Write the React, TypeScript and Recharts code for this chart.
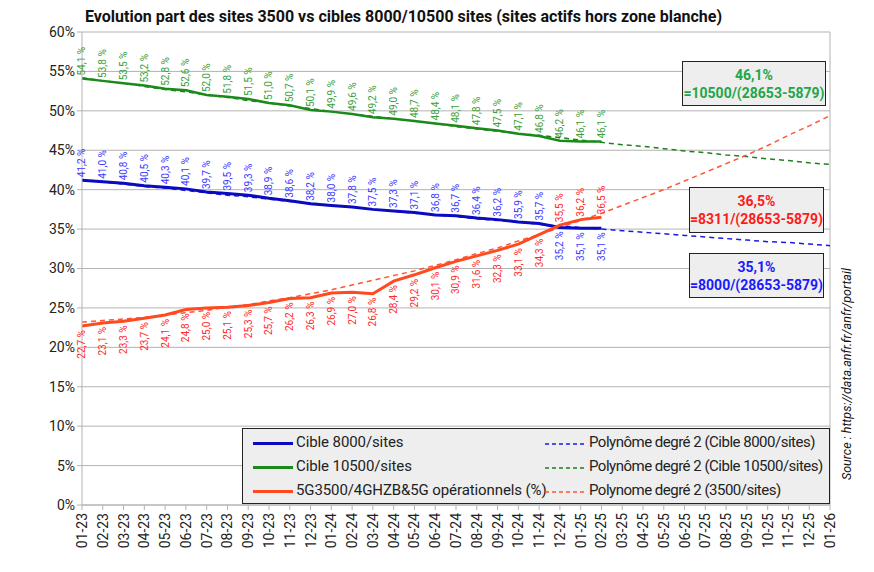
import { LineChart, Line, XAxis, YAxis, CartesianGrid, LabelList, ReferenceLine } from 'recharts';

const months = [
  '01-23', '02-23', '03-23', '04-23', '05-23', '06-23', '07-23', '08-23', '09-23', '10-23', '11-23', '12-23',
  '01-24', '02-24', '03-24', '04-24', '05-24', '06-24', '07-24', '08-24', '09-24', '10-24', '11-24', '12-24',
  '01-25', '02-25', '03-25', '04-25', '05-25', '06-25', '07-25', '08-25', '09-25', '10-25', '11-25', '12-25',
  '01-26',
];

const cible8000 = [
  41.2, 41.0, 40.8, 40.5, 40.3, 40.1, 39.7, 39.5, 39.3, 38.9, 38.6, 38.2, 38.0,
  37.8, 37.5, 37.3, 37.1, 36.8, 36.7, 36.4, 36.2, 35.9, 35.7, 35.2, 35.1, 35.1,
];

const cible10500 = [
  54.1, 53.8, 53.5, 53.2, 52.8, 52.6, 52.0, 51.8, 51.5, 51.0, 50.7, 50.1, 49.9,
  49.6, 49.2, 49.0, 48.7, 48.4, 48.1, 47.8, 47.5, 47.1, 46.8, 46.2, 46.1, 46.1,
];

const sites3500 = [
  22.7, 23.1, 23.3, 23.7, 24.1, 24.8, 25.0, 25.1, 25.3, 25.7, 26.2, 26.3, 26.9,
  27.0, 26.8, 28.4, 29.2, 30.1, 30.9, 31.6, 32.3, 33.1, 34.3, 35.5, 36.2, 36.5,
];

// trend lines (polynôme degré 2)
const trend8000 = [
  41.3, 41.0, 40.7, 40.4, 40.2, 39.9, 39.6, 39.3, 39.1, 38.8, 38.5, 38.3, 38.0,
  37.8, 37.5, 37.3, 37.0, 36.8, 36.6, 36.3, 36.1, 35.9, 35.6, 35.4, 35.2, 35.0,
  34.8, 34.6, 34.4, 34.2, 34.0, 33.8, 33.6, 33.4, 33.3, 33.1, 32.9,
];

const trend10500 = [
  54.2, 53.8, 53.5, 53.1, 52.7, 52.4, 52.0, 51.7, 51.3, 51.0, 50.6, 50.3, 49.9,
  49.6, 49.3, 49.0, 48.7, 48.4, 48.0, 47.7, 47.4, 47.1, 46.9, 46.6, 46.3, 46.0,
  45.7, 45.5, 45.2, 44.9, 44.7, 44.4, 44.2, 43.9, 43.7, 43.4, 43.2,
];

const trend3500 = [
  23.2, 23.4, 23.6, 23.8, 24.1, 24.4, 24.7, 25.1, 25.4, 25.9, 26.3, 26.8, 27.3,
  27.9, 28.5, 29.1, 29.7, 30.4, 31.1, 31.9, 32.6, 33.5, 34.3, 35.2, 36.1, 37.0,
  38.0, 39.0, 40.0, 41.1, 42.2, 43.3, 44.4, 45.6, 46.9, 48.1, 49.4,
];

const yTicks = [0, 5, 10, 15, 20, 25, 30, 35, 40, 45, 50, 55, 60];

const data = months.map((m, i) => ({
  month: m,
  c8000: cible8000[i] ?? null,
  c10500: cible10500[i] ?? null,
  s3500: sites3500[i] ?? null,
  t8000: trend8000[i],
  t10500: trend10500[i],
  t3500: trend3500[i],
}));

const FONT = 'Roboto, sans-serif';
const GRID = '#b3b3b3';

const fmt = (v: number) => v.toFixed(1).replace('.', ',');

const makeLabel = (color: string, belowFrom: number, belowTo: number) => (props: any) => {
  const { x, y, value, index } = props;
  if (value == null || x == null || y == null) return null;
  const below = index >= belowFrom && index <= belowTo;
  const ax = x + 3.5;
  const ay = below ? y + 4 : y - 3;
  return (
    <text
      x={ax}
      y={ay}
      transform={`rotate(-90 ${ax} ${ay})`}
      textAnchor={below ? 'end' : 'start'}
      fontSize={10}
      fontFamily={FONT}
      fill={color}
    >
      {fmt(value)} %
    </text>
  );
};

const MonthTick = (props: any) => {
  const { x, y, payload } = props;
  const ax = x + 5;
  const ay = y + 1;
  return (
    <text
      x={ax}
      y={ay}
      transform={`rotate(-90 ${ax} ${ay})`}
      textAnchor="end"
      fontSize={14}
      fontFamily={FONT}
      fill="#222"
    >
      {payload.value}
    </text>
  );
};

const boxStyle = {
  position: 'absolute' as const,
  background: '#eeeeee',
  border: '1px solid #222',
  fontFamily: FONT,
  fontWeight: 700,
  fontSize: 14,
  lineHeight: '18px',
  textAlign: 'center' as const,
  boxSizing: 'border-box' as const,
  paddingTop: 4,
};

const legendRows = [
  { left: 'Cible 8000/sites', lc: '#0a0ac0', right: 'Polynôme degré 2 (Cible 8000/sites)', rc: '#1a1ae6' },
  { left: 'Cible 10500/sites', lc: '#1a8a1a', right: 'Polynôme degré 2 (Cible 10500/sites)', rc: '#1e801e' },
  { left: '5G3500/4GHZB&5G opérationnels (%)', lc: '#ff4a1f', right: 'Polynome degré 2 (3500/sites)', rc: '#ff5533' },
];

export default function App() {
  return (
    <div style={{ position: 'relative', width: 866, height: 564 }}>
      <LineChart width={866} height={556} data={data} margin={{ top: 24, right: 44, bottom: 0, left: 0 }}>
        <CartesianGrid vertical={false} stroke={GRID} />
        <XAxis
          dataKey="month"
          height={59}
          interval={0}
          tick={<MonthTick />}
          tickSize={5}
          stroke={GRID}
          tickLine={{ stroke: GRID }}
        />
        <YAxis
          width={74}
          domain={[0, 60]}
          ticks={yTicks}
          tickFormatter={(v: number) => `${v}%`}
          tick={{ fontSize: 14, fontFamily: FONT, fill: '#222' }}
          tickSize={5}
          stroke={GRID}
          tickLine={{ stroke: GRID }}
          interval={0}
        />
        <ReferenceLine x="01-26" stroke={GRID} />
        <Line dataKey="t10500" stroke="#1e801e" strokeWidth={1.5} strokeDasharray="5 4" dot={false} isAnimationActive={false} />
        <Line dataKey="t8000" stroke="#1a1ae6" strokeWidth={1.5} strokeDasharray="5 4" dot={false} isAnimationActive={false} />
        <Line dataKey="t3500" stroke="#ff5533" strokeWidth={1.5} strokeDasharray="5 4" dot={false} isAnimationActive={false} />
        <Line dataKey="c10500" stroke="#1a8a1a" strokeWidth={2.5} dot={false} isAnimationActive={false}>
          <LabelList dataKey="c10500" content={makeLabel('#3aa03a', 99, 99)} />
        </Line>
        <Line dataKey="c8000" stroke="#0a0ac0" strokeWidth={3} dot={false} isAnimationActive={false}>
          <LabelList dataKey="c8000" content={makeLabel('#3b3bff', 23, 25)} />
        </Line>
        <Line dataKey="s3500" stroke="#ff4a1f" strokeWidth={3} dot={false} isAnimationActive={false}>
          <LabelList dataKey="s3500" content={makeLabel('#ff2a2a', 0, 22)} />
        </Line>
      </LineChart>

      <svg width={866} height={572} style={{ position: 'absolute', left: 0, top: -8, pointerEvents: 'none', overflow: 'visible' }}>
        <text x={77} y={22} fontFamily={FONT} fontWeight={700} fontSize={16} fill="#111">
          Evolution part des sites 3500 vs cibles 8000/10500 sites (sites actifs hors zone blanche)
        </text>
        <text
          x={843}
          y={480}
          transform="rotate(-90 843 480)"
          fontFamily={FONT}
          fontStyle="italic"
          fontSize={12.5}
          fill="#111"
        >
          Source : https://data.anfr.fr/anfr/portail
        </text>
      </svg>

      <div style={{ ...boxStyle, left: 674, top: 53, width: 144, height: 45, color: '#22a548' }}>
        46,1%<br />=10500/(28653-5879)
      </div>
      <div style={{ ...boxStyle, left: 681, top: 179, width: 135, height: 46, color: '#ff1a1a' }}>
        36,5%<br />=8311/(28653-5879)
      </div>
      <div style={{ ...boxStyle, left: 681, top: 245, width: 135, height: 45, color: '#1a1aff' }}>
        35,1%<br />=8000/(28653-5879)
      </div>

      <div
        style={{
          position: 'absolute',
          left: 234,
          top: 420,
          width: 588,
          height: 76,
          background: '#eeeeee',
          border: '1px solid #222',
          boxSizing: 'border-box',
          fontFamily: FONT,
          fontSize: 15,
          color: '#222',
        }}
      >
        {legendRows.map((r, i) => (
          <div key={i} style={{ position: 'absolute', left: 0, top: 2 + i * 24, height: 24, width: '100%' }}>
            <div style={{ position: 'absolute', left: 10, top: 11, width: 40, height: 3, background: r.lc }} />
            <div style={{ position: 'absolute', left: 53, top: 2, whiteSpace: 'nowrap', letterSpacing: -0.1 }}>{r.left}</div>
            <svg width={42} height={4} style={{ position: 'absolute', left: 302, top: 11 }}>
              <line x1={0} y1={2} x2={42} y2={2} stroke={r.rc} strokeWidth={1.5} strokeDasharray="4 3" />
            </svg>
            <div style={{ position: 'absolute', left: 346, top: 2, whiteSpace: 'nowrap', letterSpacing: -0.5 }}>{r.right}</div>
          </div>
        ))}
      </div>
    </div>
  );
}
